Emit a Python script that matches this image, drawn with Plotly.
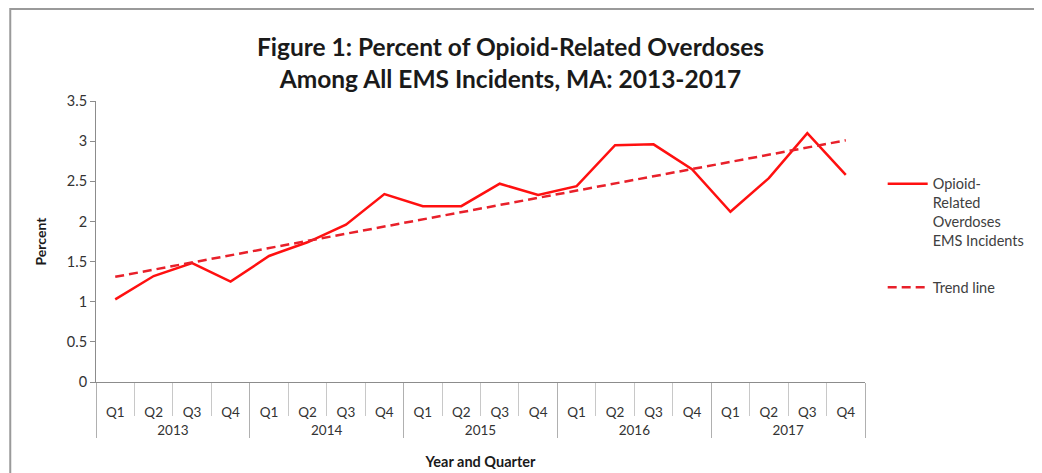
import plotly.graph_objects as go

years = ["2013", "2014", "2015", "2016", "2017"]
quarters = ["Q1", "Q2", "Q3", "Q4"]
percent = [1.03, 1.32, 1.48, 1.25, 1.57, 1.74, 1.96, 2.34, 2.19, 2.19,
           2.47, 2.33, 2.44, 2.95, 2.96, 2.65, 2.12, 2.54, 3.10, 2.58]
trend_ends = [1.31, 3.01]
yticks = [0, 0.5, 1, 1.5, 2, 2.5, 3, 3.5]
ytick_labels = ["0", "0.5", "1", "1.5", "2", "2.5", "3", "3.5"]

# leading line breaks push the two label rows down, as in the reference
x_year = ["<br>" + y for y in years for _ in quarters]
x_q = ["<br>" + q for _ in years for q in quarters]

FONT = "Lato, 'Open Sans', sans-serif"
AXC = "#8c8c8c"

fig = go.Figure()
fig.add_trace(go.Scatter(
    x=[x_year, x_q], y=percent, mode="lines", legendgroup="a",
    name="Opioid-<br>Related<br>Overdoses<br>EMS Incidents",
    line=dict(color="#ff1010", width=2.5)))
fig.add_trace(go.Scatter(
    x=[[x_year[0], x_year[-1]], [x_q[0], x_q[-1]]], y=trend_ends, mode="lines",
    name="Trend line", legendgroup="b",
    line=dict(color="#e8202a", width=2.5, dash="9px,5px")))

fig.update_layout(
    width=1034, height=465,
    paper_bgcolor="white", plot_bgcolor="white",
    margin=dict(l=88, r=175, t=93, b=91),
    font=dict(family=FONT, size=13, color="#333333"),
    title=dict(text="<b>Figure 1: Percent of Opioid-Related Overdoses<br>Among All EMS Incidents, MA: 2013-2017</b>",
               x=0.486, xanchor="center", y=0.897, yanchor="middle",
               font=dict(family=FONT, size=24.5, color="#1a1a1a")),
    showlegend=True,
    legend=dict(x=1.023, xanchor="left", y=0.762, yanchor="top",
                font=dict(family=FONT, size=14.5, color="#404040"),
                tracegroupgap=25, itemwidth=40, valign="top",
                bgcolor="rgba(0,0,0,0)"),
    xaxis=dict(type="multicategory", range=[-0.5, 19.5], automargin=False,
               showline=True, linecolor=AXC, linewidth=1,
               ticks="outside", tickson="boundaries", ticklen=33, tickcolor="#c8c8c8",
               showdividers=True, dividercolor="#b0b0b0", dividerwidth=1,
               showgrid=False, tickfont=dict(family=FONT, size=13.5, color="#333333"),
               title=dict(text="<b>Year and Quarter</b>", standoff=20,
                          font=dict(family=FONT, size=14.5, color="#1a1a1a"))),
    yaxis=dict(range=[0, 3.5], tickvals=yticks, ticktext=ytick_labels,
               showline=True, linecolor=AXC, linewidth=1, ticks="outside", ticklen=5,
               tickcolor=AXC, showgrid=False, zeroline=False,
               tickfont=dict(family=FONT, size=14.5, color="#333333"),
               title=dict(text="<b>Percent</b>", standoff=16,
                          font=dict(family=FONT, size=14, color="#1a1a1a"))),
)

fig.add_shape(type="rect", xref="paper", yref="paper",
              x0=-0.1115, x1=1.3, y0=-0.5, y1=1.327,
              line=dict(color="#9a9a9a", width=2), layer="below")

fig.write_html("out.html")
